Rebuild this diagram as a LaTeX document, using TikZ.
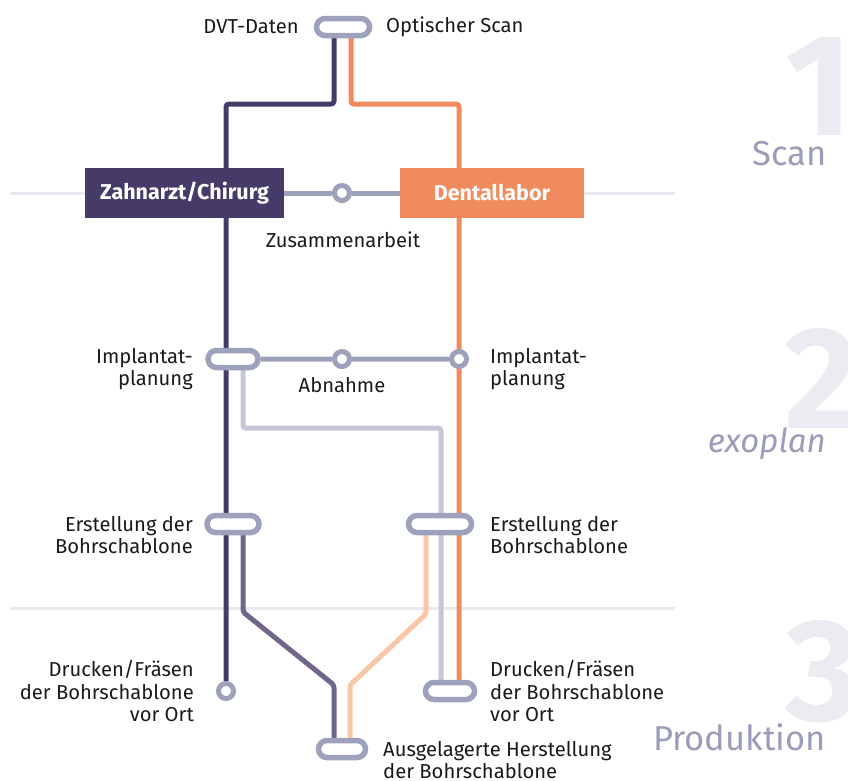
\documentclass[tikz,border=0pt]{standalone}
\usepackage{fontspec}
\setmainfont{Fira Sans}
\usetikzlibrary{shapes.misc,backgrounds}
\definecolor{dpurple}{HTML}{463B68}
\definecolor{mpurple}{HTML}{716689}
\definecolor{orng}{HTML}{F08B5E}
\definecolor{lorng}{HTML}{F9C6A8}
\definecolor{pillgrey}{HTML}{9EA1BB}
\definecolor{lgrey}{HTML}{C5C6D6}
\definecolor{sepgrey}{HTML}{E9E9F1}
\definecolor{numgrey}{HTML}{EBEBF2}
\definecolor{phasegrey}{HTML}{9A9CB8}
\definecolor{txt}{HTML}{1A1A1A}
\begin{document}
\begin{tikzpicture}[x=1pt,y=-1pt,
  pill/.style={rounded rectangle, draw=pillgrey, line width=5.5pt, fill=white, minimum height=17pt, inner sep=0pt},
  stopc/.style={circle, draw=pillgrey, line width=5pt, fill=white, minimum size=15pt, inner sep=0pt},
  track/.style={line width=5pt, rounded corners=3pt},
  conn/.style={draw=pillgrey, line width=5pt},
  sep/.style={draw=sepgrey, line width=3pt},
  lbl/.style={font=\fontsize{20.2}{22.5}\selectfont, text=txt, inner sep=0pt},
  box/.style={minimum height=50pt, inner sep=0pt, text=white, font=\fontsize{21.5}{24}\selectfont\bfseries},
  bignum/.style={font=\fontsize{145}{145}\selectfont\bfseries, text=numgrey, inner sep=0pt},
  phase/.style={font=\fontsize{34.5}{38}\selectfont, text=phasegrey, inner sep=0pt}]
\useasboundingbox (0,0) rectangle (848,780);

% big phase numbers
\node[bignum, anchor=base east] (n1) at (853,135) {1};
\node[bignum, anchor=base west] (n2) at (784,428) {2};
\node[bignum, anchor=base west] (n3) at (785,720) {3};
\node[phase, anchor=base east] (ph1) at (827,165) {Scan};
\node[phase, anchor=base east, font=\fontsize{33}{38}\selectfont\itshape] (ph2) at (826,452) {exoplan};
\node[phase, anchor=base east] (ph3) at (826,750) {Produktion};

% stations
\node[pill, minimum width=53pt] (P0) at (343,27) {};
\node[box, fill=dpurple, minimum width=199pt] (Z) at (184.5,193) {Zahnarzt/Chirurg};
\node[box, fill=orng, minimum width=184pt] (D) at (492,193) {Dentallabor};
\node[stopc] (C1) at (342,193) {};
\node[pill, minimum width=50pt] (PL2) at (233,359) {};
\node[stopc] (C2) at (342,359) {};
\node[stopc] (CR2) at (459,359) {};
\node[pill, minimum width=52pt] (PL3) at (233,524) {};
\node[pill, minimum width=63pt] (PR2) at (440,524) {};
\node[stopc] (CL3) at (226,691) {};
\node[pill, minimum width=49pt] (PR3) at (450,691) {};
\node[pill, minimum width=47pt] (PB) at (342,749) {};

% helper coordinates
\coordinate (d1) at (334,104);
\coordinate (d2) at (226,104);
\coordinate (o1) at (351,104);
\coordinate (g1) at (243,428);
\coordinate (g2) at (441,428);
\coordinate (m1) at (243,612);
\coordinate (m2) at (334,685);
\coordinate (l1) at (426,614);
\coordinate (l2) at (350,685);

\begin{scope}[on background layer]
  \draw[sep] (10,193) -- (675,193);
  \draw[sep] (10,608) -- (675,608);
  \draw[track, lgrey] (PL2.center -| g1) -- (g1) -- (g2) -- (g2 |- PR3);
  \draw[track, mpurple] (PL3.center -| m1) -- (m1) -- (m2) -- (m2 |- PB);
  \draw[track, lorng] (PR2.center -| l1) -- (l1) -- (l2) -- (l2 |- PB);
  \draw[track, dpurple] (P0.center -| d1) -- (d1) -- (d2) -- (CL3);
  \draw[track, orng] (P0.center -| o1) -- (o1) -- (o1 -| CR2) -- (CR2 |- PR3);
  \draw[conn] (Z) -- (C1) -- (D);
  \draw[conn] (PL2) -- (C2) -- (CR2);
\end{scope}

% labels
\node[lbl, anchor=east] (tDVT) at (299,27) {DVT-Daten};
\node[lbl, anchor=west] (tOpt) at (386,27) {Optischer Scan};
\node[lbl] (tZus) at (343,240) {Zusammenarbeit};
\node[lbl, anchor=east, align=right] (tIL) at (193,369) {Implantat-\\planung};
\node[lbl, anchor=west, align=left] (tIR) at (490,369) {Implantat-\\planung};
\node[lbl] (tAbn) at (342,385) {Abnahme};
\node[lbl, anchor=east, align=right] (tEL) at (193,535) {Erstellung der\\Bohrschablone};
\node[lbl, anchor=west, align=left] (tER) at (490,535) {Erstellung der\\Bohrschablone};
\node[lbl, anchor=east, align=right] (tDL) at (194,691) {Drucken/Fräsen\\der Bohrschablone\\vor Ort};
\node[lbl, anchor=west, align=left] (tDR) at (490,691) {Drucken/Fräsen\\der Bohrschablone\\vor Ort};
\node[lbl, anchor=west, align=left] (tAus) at (383,760) {Ausgelagerte Herstellung\\der Bohrschablone};
\end{tikzpicture}
\end{document}
